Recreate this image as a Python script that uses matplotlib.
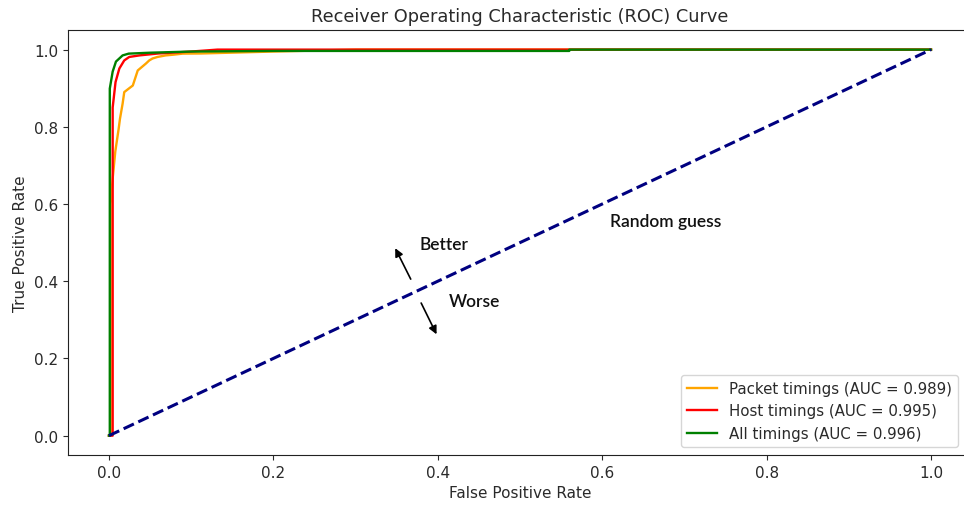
import matplotlib
matplotlib.use("Agg")
import matplotlib.pyplot as plt

# ROC curve points (false positive rate, true positive rate)
packet_fpr = [0.0, 0.002, 0.002, 0.0045, 0.0077, 0.0118, 0.0134, 0.0166, 0.0186, 0.0247, 0.029,
              0.035, 0.045, 0.049, 0.053, 0.059, 0.069, 0.079, 0.0896, 0.112, 0.2, 0.3, 1.0]
packet_tpr = [0.0, 0.0, 0.60, 0.666, 0.736, 0.795, 0.821, 0.860, 0.890, 0.900, 0.907,
              0.946, 0.964, 0.972, 0.977, 0.981, 0.985, 0.987, 0.9896, 0.990, 0.995, 1.0, 1.0]

host_fpr = [0.0, 0.0045, 0.0045, 0.008, 0.0126, 0.0186, 0.0247, 0.037, 0.06, 0.1, 0.132, 1.0]
host_tpr = [0.0, 0.0, 0.85, 0.916, 0.951, 0.972, 0.981, 0.985, 0.990, 0.995, 1.0, 1.0]

all_fpr = [0.0, 0.001, 0.001, 0.0045, 0.0085, 0.0166, 0.024, 0.05, 0.1, 0.2, 0.56, 0.56, 1.0]
all_tpr = [0.0, 0.0, 0.899, 0.943, 0.969, 0.985, 0.9896, 0.992, 0.995, 0.9966, 0.9966, 1.0, 1.0]

labels = ["Packet timings (AUC = 0.989)",
          "Host timings (AUC = 0.995)",
          "All timings (AUC = 0.996)"]
colors = ["orange", "red", "green"]

plt.rcParams.update({
    "font.size": 11,
    "text.color": "#2a2a2a",
    "axes.labelcolor": "#2a2a2a",
    "xtick.color": "#2a2a2a",
    "ytick.color": "#2a2a2a",
    "axes.edgecolor": "#222222",
})

fig = plt.figure(figsize=(9.64, 5.10), dpi=100)
ax = fig.add_axes([0.0704, 0.106, 0.938, 0.8326])

for fpr, tpr, lab, col in zip([packet_fpr, host_fpr, all_fpr],
                              [packet_tpr, host_tpr, all_tpr], labels, colors):
    ax.plot(fpr, tpr, color=col, lw=1.7, label=lab)

ax.plot([0, 1], [0, 1], color="navy", lw=2.2, linestyle="--")

ax.set_title("Receiver Operating Characteristic (ROC) Curve", fontsize=12.8, pad=7)
ax.set_xlabel("False Positive Rate", labelpad=4)
ax.set_ylabel("True Positive Rate", labelpad=4)
ax.legend(loc="lower right", bbox_to_anchor=(0.9846, 0.0188), borderaxespad=0,
          fontsize=10.8)

note_font = dict(family="Lato", fontsize=12.5, weight="semibold", color="#111111")
ax.text(0.6095, 0.557, "Random guess", va="center", ha="left", **note_font)
ax.text(0.378, 0.497, "Better", va="center", ha="left", **note_font)
ax.text(0.4136, 0.350, "Worse", va="center", ha="left", **note_font)

arrow_style = dict(arrowstyle="-|>", color="black", lw=1.2, mutation_scale=12)
ax.annotate("", xy=(0.3467, 0.492), xytext=(0.3686, 0.399), arrowprops=arrow_style)
ax.annotate("", xy=(0.400, 0.256), xytext=(0.3783, 0.350), arrowprops=arrow_style)

fig.savefig("out.png", dpi=100)
